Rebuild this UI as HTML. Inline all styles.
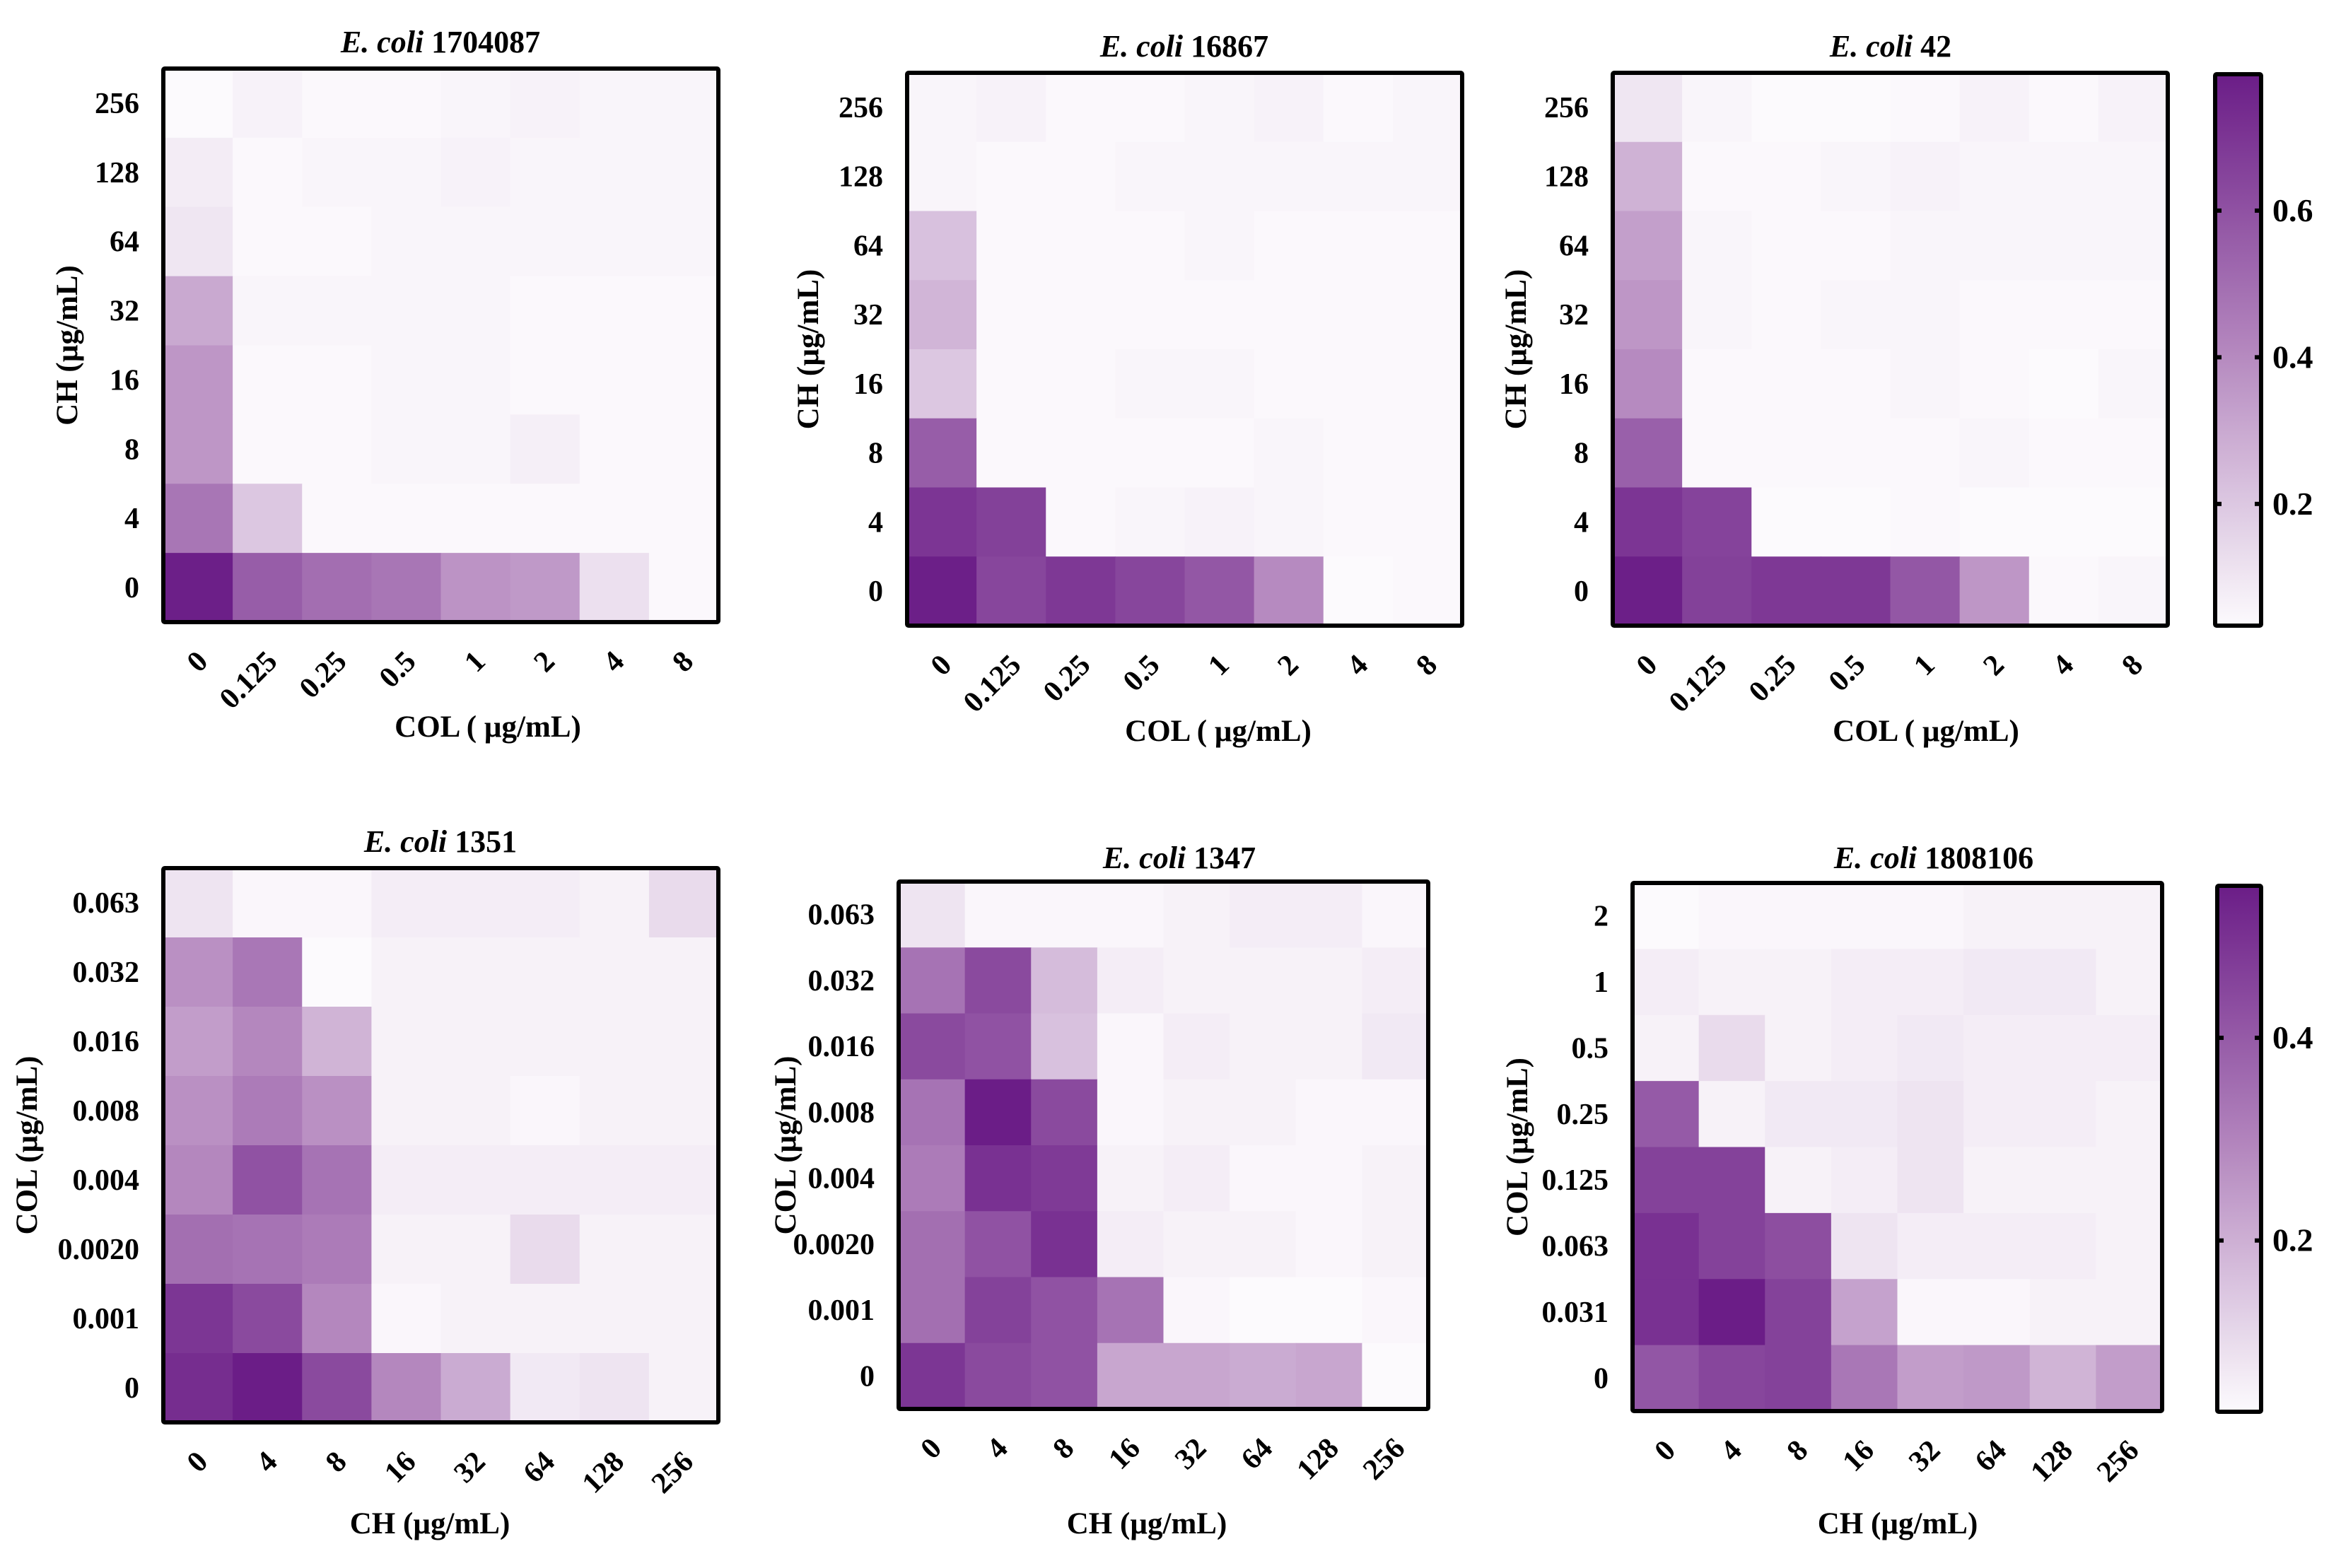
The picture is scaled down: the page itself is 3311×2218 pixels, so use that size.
<!DOCTYPE html>
<html><head><meta charset="utf-8"><style>
html,body{margin:0;padding:0;background:#fff;}
svg{display:block;font-family:"Liberation Serif",serif;font-weight:bold;}
</style></head><body>
<svg id="fig" width="3311" height="2218" viewBox="0 0 3311 2218" xmlns="http://www.w3.org/2000/svg"></svg>
<script>
const colLabelsA = ["0","0.125","0.25","0.5","1","2","4","8"];
const chLabelsA = ["256","128","64","32","16","8","4","0"];
const chLabelsB = ["0","4","8","16","32","64","128","256"];
const colLabelsB = ["0.063","0.032","0.016","0.008","0.004","0.0020","0.001","0"];
const colLabelsC = ["2","1","0.5","0.25","0.125","0.063","0.031","0"];
const titles = ["1704087","16867","42","1351","1347","1808106"];
const cbTicksTop = [0.2,0.4,0.6];
const cbTicksBottom = [0.2,0.4];
const rangeTop = [0.034,0.786];
const rangeBottom = [0.031,0.55];

const values1 = [
[.03,.06,.04,.04,.05,.06,.05,.05],
[.08,.04,.05,.05,.06,.05,.05,.05],
[.10,.04,.04,.05,.05,.05,.05,.05],
[.30,.05,.05,.05,.05,.04,.04,.04],
[.36,.04,.04,.05,.05,.04,.04,.04],
[.36,.04,.04,.05,.05,.07,.04,.04],
[.47,.20,.04,.04,.04,.04,.04,.04],
[.78,.56,.50,.47,.37,.35,.12,.04]];
const values2 = [
[.05,.06,.04,.04,.05,.06,.04,.05],
[.05,.04,.04,.05,.05,.05,.05,.05],
[.22,.04,.04,.04,.05,.04,.04,.04],
[.26,.04,.04,.04,.04,.04,.04,.04],
[.20,.04,.04,.05,.05,.04,.04,.04],
[.56,.04,.04,.04,.04,.05,.04,.04],
[.70,.66,.04,.05,.06,.05,.04,.04],
[.78,.64,.69,.64,.58,.40,.03,.04]];
const values3 = [
[.10,.05,.03,.03,.04,.06,.04,.06],
[.27,.04,.04,.05,.06,.05,.05,.05],
[.33,.05,.04,.04,.05,.05,.05,.05],
[.36,.05,.04,.05,.05,.04,.04,.04],
[.40,.04,.04,.04,.05,.04,.03,.05],
[.55,.04,.04,.04,.04,.05,.04,.04],
[.70,.65,.03,.03,.04,.03,.03,.03],
[.78,.66,.69,.69,.58,.36,.04,.05]];
const values4 = [
[.08,.04,.04,.06,.06,.06,.05,.10],
[.27,.33,.03,.05,.05,.05,.05,.05],
[.24,.29,.19,.05,.05,.05,.05,.05],
[.27,.32,.27,.05,.05,.04,.05,.05],
[.29,.42,.34,.06,.06,.06,.06,.06],
[.35,.34,.32,.05,.05,.10,.05,.05],
[.49,.44,.29,.04,.05,.05,.05,.05],
[.51,.55,.44,.29,.21,.07,.08,.05]];
const values5 = [
[.08,.04,.04,.04,.05,.06,.06,.04],
[.34,.44,.17,.06,.05,.05,.05,.06],
[.44,.42,.16,.04,.06,.05,.05,.07],
[.34,.55,.44,.04,.05,.05,.04,.04],
[.32,.50,.48,.05,.06,.04,.04,.05],
[.35,.42,.50,.06,.05,.05,.04,.05],
[.35,.46,.42,.34,.04,.03,.03,.04],
[.49,.44,.42,.22,.22,.21,.22,.03]];
const values6 = [
[.03,.04,.04,.04,.04,.05,.05,.05],
[.06,.05,.05,.06,.06,.07,.07,.05],
[.05,.10,.05,.06,.07,.06,.06,.06],
[.40,.05,.07,.07,.08,.06,.06,.05],
[.46,.46,.05,.06,.08,.05,.05,.05],
[.50,.46,.43,.08,.06,.06,.06,.05],
[.50,.55,.46,.23,.04,.04,.05,.05],
[.41,.45,.46,.33,.24,.25,.19,.24]];

const NS="http://www.w3.org/2000/svg";
const svg=document.getElementById('fig');
function mk(tag,attrs,parent){const e=document.createElementNS(NS,tag);for(const k in attrs)e.setAttribute(k,attrs[k]);(parent||svg).appendChild(e);return e;}
const stops=[[0,[252,250,253]],[0.5,[180,135,190]],[1,[107,29,135]]];
function color(v,range){let t=(v-range[0])/(range[1]-range[0]);t=Math.max(0,Math.min(1,t));
 let i=t<=0.5?0:1;const a=stops[i],b=stops[i+1];const u=(t-a[0])/(b[0]-a[0]);
 const c=a[1].map((x,j)=>Math.round(x+(b[1][j]-x)*u));return `rgb(${c[0]},${c[1]},${c[2]})`;}

const panels=[
 {vals:values1,rows:chLabelsA,cols:colLabelsA,range:rangeTop,box:[231,97,785,783],title:titles[0],tx:623,ty:74,ylab:"CH (µg/mL)",yx:99,xlab:"COL ( µg/mL)",xx:690,xy:1042},
 {vals:values2,rows:chLabelsA,cols:colLabelsA,range:rangeTop,box:[1283,103,785,782],title:titles[1],tx:1675,ty:80,ylab:"CH (µg/mL)",yx:1147,xlab:"COL ( µg/mL)",xx:1723,xy:1048},
 {vals:values3,rows:chLabelsA,cols:colLabelsA,range:rangeTop,box:[2281,103,785,782],title:titles[2],tx:2674,ty:80,ylab:"CH (µg/mL)",yx:2148,xlab:"COL ( µg/mL)",xx:2724,xy:1048},
 {vals:values4,rows:colLabelsB,cols:chLabelsB,range:rangeBottom,box:[231,1228,785,784],title:titles[3],tx:623,ty:1205,ylab:"COL (µg/mL)",yx:42,xlab:"CH (µg/mL)",xx:608,xy:2169},
 {vals:values5,rows:colLabelsB,cols:chLabelsB,range:rangeBottom,box:[1271,1247,749,746],title:titles[4],tx:1668,ty:1228,ylab:"COL (µg/mL)",yx:1115,xlab:"CH (µg/mL)",xx:1622,xy:2169},
 {vals:values6,rows:colLabelsC,cols:chLabelsB,range:rangeBottom,box:[2309,1249,749,747],title:titles[5],tx:2735,ty:1228,ylab:"COL (µg/mL)",yx:2150,xlab:"CH (µg/mL)",xx:2684,xy:2169}
];

panels.forEach((p,pi)=>{
 const g=mk('g',{});
 
 
 const [x0,y0,w,h]=p.box;
 const n=p.cols.length,m=p.rows.length;
 const cw=w/n,ch=h/m;
 const xs=i=>x0+i*cw, ys=j=>y0+j*ch;
 p.vals.forEach((row,j)=>row.forEach((v,i)=>{
  const r=mk('rect',{x:xs(i).toFixed(2),y:ys(j).toFixed(2),width:(cw+0.6).toFixed(2),height:(ch+0.6).toFixed(2),fill:color(v,p.range)},g);
  
  
 }));
 const fr=mk('rect',{x:x0,y:y0,width:w,height:h,fill:'none',stroke:'#000','stroke-width':6,rx:2},g);
 
 
 const t=mk('text',{x:p.tx,y:p.ty,'text-anchor':'middle','font-size':44},g);
 
 
 const it=mk('tspan',{'font-style':'italic'},t);it.textContent='E. coli ';
 const nt=mk('tspan',{},t);nt.textContent=p.title;
 p.rows.forEach((lab,j)=>{
  const tt=mk('text',{x:x0-34,y:(ys(j)+ch/2+14).toFixed(1),'text-anchor':'end','font-size':42},g);
  
  
  tt.textContent=lab;
 });
 p.cols.forEach((lab,i)=>{
  const cx=xs(i)+cw/2+16, cy=y0+h+58;
  const tt=mk('text',{x:cx.toFixed(1),y:cy.toFixed(1),'text-anchor':'end','font-size':42,transform:`rotate(-45 ${cx.toFixed(1)} ${cy.toFixed(1)})`},g);
  
  
  tt.textContent=lab;
 });
 const yl=mk('text',{x:p.yx,y:y0+h/2,'text-anchor':'middle','font-size':43,transform:`rotate(-90 ${p.yx} ${y0+h/2})`,'dominant-baseline':'middle'},g);
 
 
 yl.textContent=p.ylab;
 const xl=mk('text',{x:p.xx,y:p.xy,'text-anchor':'middle','font-size':43},g);
 
 
 xl.textContent=p.xlab;
});

function colorbar(box,range,ticks,id){
 const g=mk('g',{});
 
 
 const [x0,y0,w,h]=box;
 const gid='cbg'+id;
 const defs=mk('defs',{},g);
 const lg=mk('linearGradient',{id:gid,x1:0,y1:1,x2:0,y2:0},defs);
 for(let k=0;k<=20;k++){const t=k/20;mk('stop',{offset:t,'stop-color':color(range[0]+t*(range[1]-range[0]),range)},lg);}
 mk('rect',{x:x0,y:y0,width:w,height:h,fill:`url(#${gid})`},g);
 const fr=mk('rect',{x:x0,y:y0,width:w,height:h,fill:'none',stroke:'#000','stroke-width':6,rx:2},g);
 
 
 const yv=v=>y0+h-(v-range[0])/(range[1]-range[0])*h;
 ticks.forEach(v=>{
  const y=yv(v);
  mk('line',{x1:x0,x2:x0+9,y1:y,y2:y,stroke:'#000','stroke-width':6},g);
  mk('line',{x1:x0+w-9,x2:x0+w,y1:y,y2:y,stroke:'#000','stroke-width':6},g);
  const tt=mk('text',{x:x0+w+16,y:y+15,'font-size':46},g);
  
  
  tt.textContent=v.toFixed(1);
 });
}
colorbar([3133,105,65,780],rangeTop,cbTicksTop,'top');
colorbar([3136,1253,62,744],rangeBottom,cbTicksBottom,'bottom');
</script>
</body></html>
